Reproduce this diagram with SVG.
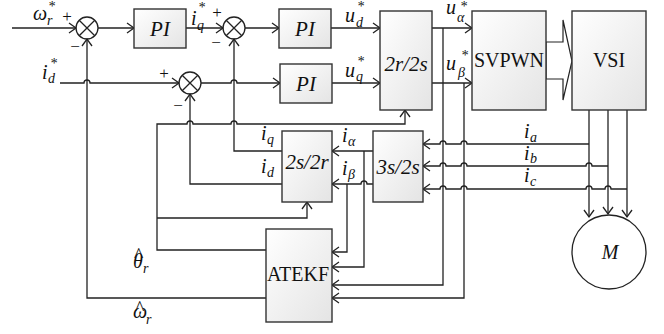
<svg xmlns="http://www.w3.org/2000/svg" width="664" height="334" viewBox="0 0 664 334">
<style>
.ln{fill:none;stroke:#222;stroke-width:1.3}
.bx{fill:url(#g);stroke:#333;stroke-width:1.4}
.v{font-family:"Liberation Serif",serif;font-style:italic;font-size:20px;fill:#111}
.s{font-size:14px}
.h{font-style:normal;font-size:20px}
.t{font-family:"Liberation Serif",serif;font-size:20px;fill:#111}
.ti{font-family:"Liberation Serif",serif;font-style:italic;font-size:21px;fill:#111}
.sg{font-family:"Liberation Serif",serif;font-size:17px;fill:#111;text-anchor:middle}
.m{text-anchor:middle}
</style>
<defs>
<linearGradient id="g" x1="0" y1="0" x2="1" y2="1">
<stop offset="0" stop-color="#ffffff"/>
<stop offset="1" stop-color="#e4e4e4"/>
</linearGradient>
<marker id="a" markerWidth="10" markerHeight="12" refX="8" refY="6" orient="auto" markerUnits="userSpaceOnUse">
<path d="M1,1 L8,6 L1,11" fill="none" stroke="#222" stroke-width="1.3"/>
</marker>
</defs>

<g id="connectors">
<path class="ln" marker-end="url(#a)" d="M12,28 H76"/>
<path class="ln" marker-end="url(#a)" d="M98,28 H134"/>
<path class="ln" marker-end="url(#a)" d="M186,28 H223"/>
<path class="ln" marker-end="url(#a)" d="M245,28 H279"/>
<path class="ln" marker-end="url(#a)" d="M331,28 H380"/>
<path class="ln" marker-end="url(#a)" d="M60,83 H84 A3,3 0 0 1 90,83 H179"/>
<path class="ln" marker-end="url(#a)" d="M201,83 H231 A3,3 0 0 1 237,83 H280"/>
<path class="ln" marker-end="url(#a)" d="M332,83 H380"/>
<path class="ln" marker-end="url(#a)" d="M432,28 H472"/>
<path class="ln" marker-end="url(#a)" d="M432,83 H472"/>
<path class="ln" marker-end="url(#a)" d="M443,28 V285 H332"/>
<path class="ln" marker-end="url(#a)" d="M464,83 V298 H332"/>
<polygon points="546,42 563,42 563,20 572,61 563,100 563,79 546,79" fill="#fff" stroke="#222" stroke-width="1.2"/>
<path class="ln" marker-end="url(#a)" d="M589,110 V217"/>
<path class="ln" marker-end="url(#a)" d="M608,110 V214"/>
<path class="ln" marker-end="url(#a)" d="M627,110 V217"/>
<path class="ln" marker-end="url(#a)" d="M589,144 H467 A3,3 0 0 0 461,144 H446 A3,3 0 0 0 440,144 H423"/>
<path class="ln" marker-end="url(#a)" d="M608,166 H592 A3,3 0 0 0 586,166 H467 A3,3 0 0 0 461,166 H446 A3,3 0 0 0 440,166 H423"/>
<path class="ln" marker-end="url(#a)" d="M627,189 H611 A3,3 0 0 0 605,189 H592 A3,3 0 0 0 586,189 H467 A3,3 0 0 0 461,189 H446 A3,3 0 0 0 440,189 H423"/>
<path class="ln" marker-end="url(#a)" d="M373,151 H332"/>
<path class="ln" marker-end="url(#a)" d="M364,151 V267 H332"/>
<path class="ln" marker-end="url(#a)" d="M373,184 H367 A3,3 0 0 0 361,184 H332"/>
<path class="ln" marker-end="url(#a)" d="M347,184 V252 H332"/>
<path class="ln" marker-end="url(#a)" d="M282,151 H234 V39"/>
<path class="ln" marker-end="url(#a)" d="M282,184 H190 V94"/>
<path class="ln" marker-end="url(#a)" d="M266,250 H157 V124 H187 A3,3 0 0 1 193,124 H231 A3,3 0 0 1 237,124 H405 V110"/>
<path class="ln" marker-end="url(#a)" d="M157,218 H307 V202"/>
<path class="ln" marker-end="url(#a)" d="M266,298 H87 V39"/>
</g>

<g id="sum1"><circle class="ln" cx="87" cy="28" r="11"/><path class="ln" d="M79.2,20.2 L94.8,35.8 M94.8,20.2 L79.2,35.8"/></g>
<g id="sum2"><circle class="ln" cx="234" cy="28" r="11"/><path class="ln" d="M226.2,20.2 L241.8,35.8 M241.8,20.2 L226.2,35.8"/></g>
<g id="sum3"><circle class="ln" cx="190" cy="83" r="11"/><path class="ln" d="M182.2,75.2 L197.8,90.8 M197.8,75.2 L182.2,90.8"/></g>

<g id="pi1"><rect class="bx" x="134" y="9" width="52" height="39"/><text class="ti m" x="160" y="36">PI</text></g>
<g id="pi2"><rect class="bx" x="279" y="9" width="52" height="39"/><text class="ti m" x="305" y="36">PI</text></g>
<g id="pi3"><rect class="bx" x="280" y="64" width="52" height="39"/><text class="ti m" x="306" y="91">PI</text></g>
<g id="t2r2s"><rect class="bx" x="380" y="11" width="52" height="99"/><text class="ti m" x="406" y="71">2r/2s</text></g>
<g id="svpwn"><rect class="bx" x="472" y="11" width="74" height="99"/><text class="t m" x="509" y="67">SVPWN</text></g>
<g id="vsi"><rect class="bx" x="572" y="11" width="74" height="99"/><text class="t m" x="609" y="67">VSI</text></g>
<g id="t2s2r"><rect class="bx" x="282" y="131" width="50" height="71"/><text class="ti m" x="307" y="169">2s/2r</text></g>
<g id="t3s2s"><rect class="bx" x="373" y="131" width="50" height="71"/><text class="ti m" x="398" y="174">3s/2s</text></g>
<g id="atekf"><rect class="bx" x="266" y="229" width="66" height="93"/><text class="t m" x="298" y="281">ATEKF</text></g>
<g id="motor"><circle class="ln" cx="609" cy="252" r="37"/><text class="v m" x="610" y="259">M</text></g>

<g id="labels">
<text class="v"><tspan x="33" y="20">ω</tspan><tspan class="s" x="47" y="25">r</tspan><tspan class="s" x="48" y="11">*</tspan></text>
<text class="v"><tspan x="191" y="25">i</tspan><tspan class="s" x="197" y="30">q</tspan><tspan class="s" x="198" y="12">*</tspan></text>
<text class="v"><tspan x="42" y="79">i</tspan><tspan class="s" x="48" y="83">d</tspan><tspan class="s" x="50" y="68">*</tspan></text>
<text class="v"><tspan x="345" y="22">u</tspan><tspan class="s" x="356" y="27">d</tspan><tspan class="s" x="357" y="11">*</tspan></text>
<text class="v"><tspan x="345" y="77">u</tspan><tspan class="s" x="356" y="81">q</tspan><tspan class="s" x="357" y="66">*</tspan></text>
<text class="v"><tspan x="446" y="14">u</tspan><tspan class="s" x="457" y="22">α</tspan><tspan class="s" x="460" y="11">*</tspan></text>
<text class="v"><tspan x="446" y="70">u</tspan><tspan class="s" x="458" y="77">β</tspan><tspan class="s" x="461" y="60">*</tspan></text>
<text class="v"><tspan x="261" y="140">i</tspan><tspan class="s" x="267" y="144">q</tspan></text>
<text class="v"><tspan x="261" y="173">i</tspan><tspan class="s" x="267" y="177">d</tspan></text>
<text class="v"><tspan x="342" y="142">i</tspan><tspan class="s" x="348" y="146">α</tspan></text>
<text class="v"><tspan x="342" y="175">i</tspan><tspan class="s" x="348" y="179">β</tspan></text>
<text class="v"><tspan x="524" y="138">i</tspan><tspan class="s" x="530" y="142">a</tspan></text>
<text class="v"><tspan x="524" y="160">i</tspan><tspan class="s" x="530" y="163">b</tspan></text>
<text class="v"><tspan x="524" y="182">i</tspan><tspan class="s" x="530" y="186">c</tspan></text>
<text class="v"><tspan x="133" y="268">θ</tspan><tspan class="s" x="143" y="273">r</tspan><tspan class="h" x="134" y="262">^</tspan></text>
<text class="v"><tspan x="133" y="318">ω</tspan><tspan class="s" x="146" y="324">r</tspan><tspan class="h" x="135" y="315">^</tspan></text>
<text class="sg" x="67" y="22">+</text>
<text class="sg" x="75" y="52">−</text>
<text class="sg" x="217" y="18">+</text>
<text class="sg" x="216" y="48">−</text>
<text class="sg" x="164" y="79">+</text>
<text class="sg" x="178" y="111">−</text>
</g>
</svg>
